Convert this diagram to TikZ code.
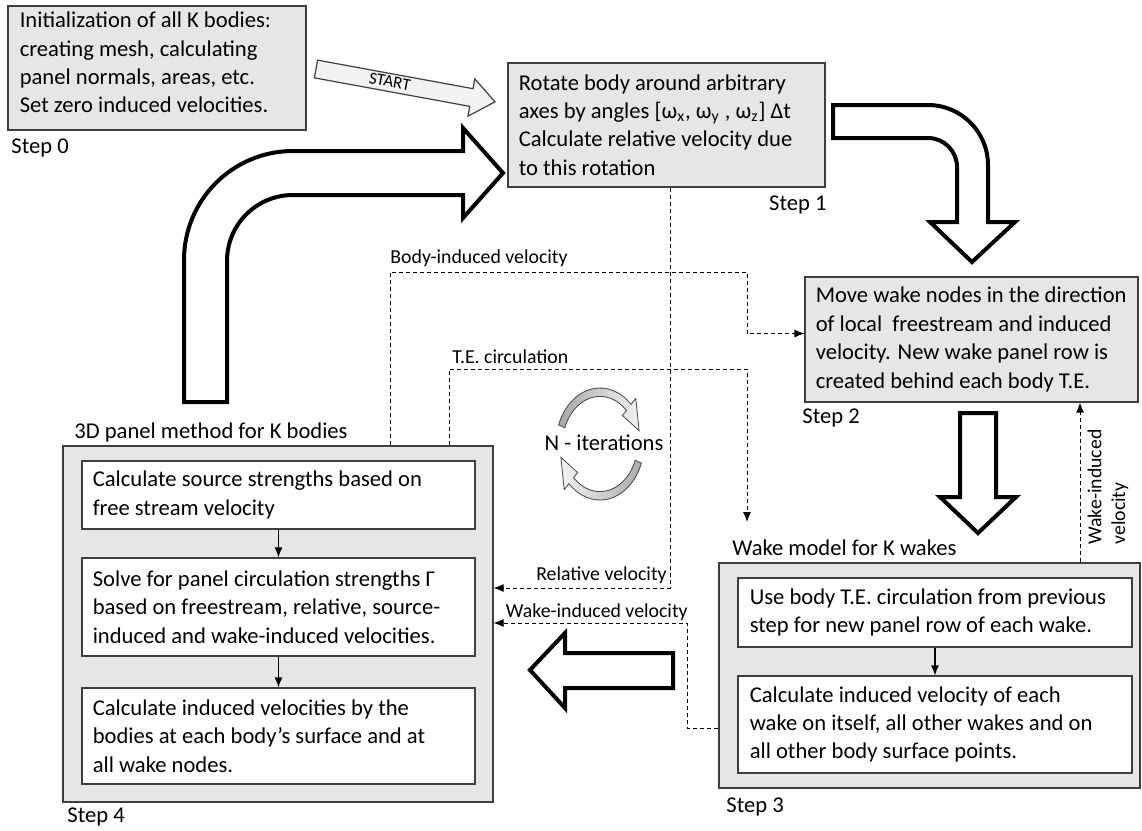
\documentclass[tikz,border=0pt]{standalone}
\usepackage{fontspec}
\setmainfont{Carlito}
\usetikzlibrary{positioning, arrows.meta, calc}
\definecolor{boxgray}{HTML}{E6E6E6}
\definecolor{linegray}{HTML}{3F3F3F}
\definecolor{startgray}{HTML}{F2F2F2}
\tikzset{
    stepbox/.style={
        draw=linegray,
        fill=boxgray,
        line width=0.6pt,
        inner sep=0pt
    },
    subbox/.style={
        draw=linegray,
        fill=white,
        line width=0.6pt,
        inner sep=0pt
    },
    boxtext/.style={
        inner sep=0pt,
        align=left,
        font=\fontsize{11.3}{14.2}\selectfont
    },
    steplabel/.style={
        inner sep=0pt,
        font=\fontsize{11.3}{14.2}\selectfont
    },
    flowlabel/.style={
        inner sep=0pt,
        font=\fontsize{9.9}{11.8}\selectfont
    },
    flowedge/.style={
        dash pattern=on 2pt off 1.5pt,
        line width=0.5pt,
        -{Latex[length=5pt,width=4pt]}
    },
    thinedge/.style={
        line width=0.6pt,
        -{Latex[length=5pt,width=4pt]}
    },
    bigarrow/.style={
        draw=black,
        fill=white,
        line width=2pt,
        line join=miter
    }
}

\begin{document}
\begin{tikzpicture}[x=0.5pt, y=-0.5pt]
  \useasboundingbox (0,0) rectangle (1142,831);

  % step boxes
  \node[stepbox, minimum width=149pt, minimum height=62pt] (s0) at (157,68) {};
  \node[stepbox, minimum width=158.5pt, minimum height=62pt] (s1) at (666.5,125) {};
  \node[stepbox, minimum width=166.5pt, minimum height=62.5pt] (s2) at (971.5,339.5) {};
  \node[stepbox, minimum width=215pt, minimum height=178pt] (s4) at (278,624) {};
  \node[stepbox, minimum width=210.5pt, minimum height=112.5pt] (s3) at (929.5,675.5) {};

  \node[subbox, minimum width=196.5pt, minimum height=34pt] (s4a) at (278.5,495) {};
  \node[subbox, minimum width=196.5pt, minimum height=49pt] (s4b) at (278.5,607) {};
  \node[subbox, minimum width=196.5pt, minimum height=48pt] (s4c) at (278.5,736) {};
  \node[subbox, minimum width=197pt, minimum height=34.5pt] (s3a) at (935,612.5) {};
  \node[subbox, minimum width=197pt, minimum height=48.5pt] (s3b) at (935,724.5) {};

  % box texts
  \node[boxtext, right=6pt of s0.west, yshift=2.75pt] (t0) {Initialization of all K bodies:\\creating mesh, calculating\\panel normals, areas, etc.\\Set zero induced velocities.};
  \node[boxtext, right=5.5pt of s1.west] (t1) {Rotate body around arbitrary\\axes by angles [ω\textsubscript{x}, ω\textsubscript{y} , ω\textsubscript{z}] Δt\\Calculate relative velocity due\\to this rotation};
  \node[boxtext, right=5.5pt of s2.west] (t2) {Move wake nodes in the direction\\of local\ \ freestream and induced\\velocity. New wake panel row is\\created behind each body T.E.};
  \node[boxtext, right=5.5pt of s4a.west] (t4a) {Calculate source strengths based on\\free stream velocity};
  \node[boxtext, right=5.5pt of s4b.west] (t4b) {Solve for panel circulation strengths Γ\\based on freestream, relative, source-\\induced and wake-induced velocities.};
  \node[boxtext, right=5.5pt of s4c.west] (t4c) {Calculate induced velocities by the\\bodies at each body’s surface and at\\all wake nodes.};
  \node[boxtext, right=6pt of s3a.west] (t3a) {Use body T.E. circulation from previous\\step for new panel row of each wake.};
  \node[boxtext, right=6pt of s3b.west] (t3b) {Calculate induced velocity of each\\wake on itself, all other wakes and on\\all other body surface points.};

  % labels
  \node[steplabel, anchor=west] (l0) at (11,148) {Step 0};
  \node[steplabel, anchor=east] (l1) at (827,205) {Step 1};
  \node[steplabel, anchor=west] (l2) at (802,418) {Step 2};
  \node[steplabel, anchor=west] (l3) at (726,807) {Step 3};
  \node[steplabel, anchor=west] (l4) at (67,817) {Step 4};
  \node[steplabel, anchor=west] (h4) at (74,432) {3D panel method for K bodies};
  \node[steplabel, anchor=west] (h3) at (732,548) {Wake model for K wakes};
  \node[steplabel] (iter) at (604,443) {N - iterations};

  \node[flowlabel, anchor=west] (fb) at (390,258) {Body-induced velocity};
  \node[flowlabel, anchor=west] (ft) at (452,357) {T.E. circulation};
  \node[flowlabel, anchor=east] (fr) at (667,575) {Relative velocity};
  \node[flowlabel, anchor=east] (fw) at (688,612) {Wake-induced velocity};
  \node[flowlabel, rotate=90, align=left] (fwr) at (1108,487) {Wake-induced\\velocity};

  % dashed data flows
  \coordinate (bv) at (390,272);
  \coordinate (bvr) at (747,272);
  \coordinate (te) at (449,369);
  \coordinate (ter) at (747,369);
  \coordinate (teend) at (747,522);
  \coordinate (rv) at (670,588);
  \coordinate (wv) at (687,623);
  \coordinate (wvb) at (687,728);
  \coordinate (wr) at (1080,0);

  \draw[flowedge] (s4.north -| bv) -- (bv) -- (bvr) |- ([yshift=3pt]s2.west);
  \draw[flowedge] (s4.north -| te) -- (te) -- (ter) -- (teend);
  \draw[flowedge] (s1.south -| rv) -- (rv) -- (s4.east |- rv);
  \draw[flowedge] (s3.west |- wvb) -- (wvb) -- (wv) -- (s4.east |- wv);
  \draw[flowedge] (s3.north -| wr) -- (s2.south -| wr);

  % inner steps
  \draw[thinedge] (s4a) -- (s4b);
  \draw[thinedge] (s4b) -- (s4c);
  \draw[thinedge] (s3a) -- (s3b);

  % big hollow arrows
  \draw[bigarrow] (184,402) -- (184,260) .. controls (184,199.8) and (232.8,151) .. (293,151)
    -- (463,151) -- (463,128) -- (503,173) -- (463,218) -- (463,195) -- (293,195)
    .. controls (256.5,195) and (227,224.5) .. (227,261) -- (227,402) -- cycle;
  \draw[bigarrow] (833,105) -- (928,105) .. controls (961.1,105) and (988,131.9) .. (988,165)
    -- (988,222) -- (1015,222) -- (972,262) -- (930,222) -- (957,222) -- (957,167)
    .. controls (957,151) and (944,138) .. (928,138) -- (833,138) -- cycle;
  \draw[bigarrow] (960,413) -- (996,413) -- (996,497) -- (1016,497) -- (978,533)
    -- (940,497) -- (960,497) -- cycle;
  \draw[bigarrow] (673,653) -- (673,688) -- (565,688) -- (565,708) -- (530,670)
    -- (565,633) -- (565,653) -- cycle;

  % start arrow
  \begin{scope}[shift={(316,69)}, rotate=-10.4]
    \draw[draw=linegray, fill=startgray, line width=0.6pt] (0,-9) -- (158,-9) -- (158,-19)
      -- (182,0) -- (158,19) -- (158,9) -- (0,9) -- cycle;
    \node[inner sep=0pt, rotate=-10.4, font=\fontsize{8.5}{10}\selectfont] (start) at (75,-1) {START};
  \end{scope}

  % iteration loop
  \begin{scope}[shift={(600,444)}, x=0.5pt, y=0.5pt]
    \draw[draw=gray!55!black, line width=0.4pt, left color=gray!70, right color=gray!10]
      (160:44 and 56) arc[start angle=160, end angle=45, x radius=44, y radius=56]
      -- (45:50.6 and 64.4) -- (15:40.5 and 51.5) -- (45:31.7 and 40.3) -- (45:37.4 and 47.6)
      arc[start angle=45, end angle=160, x radius=37.4, y radius=47.6] -- cycle;
    \draw[draw=gray!55!black, line width=0.4pt, left color=gray!10, right color=gray!65]
      (340:44 and 56) arc[start angle=340, end angle=225, x radius=44, y radius=56]
      -- (225:50.6 and 64.4) -- (195:40.5 and 51.5) -- (225:31.7 and 40.3) -- (225:37.4 and 47.6)
      arc[start angle=225, end angle=340, x radius=37.4, y radius=47.6] -- cycle;
  \end{scope}
\end{tikzpicture}
\end{document}
